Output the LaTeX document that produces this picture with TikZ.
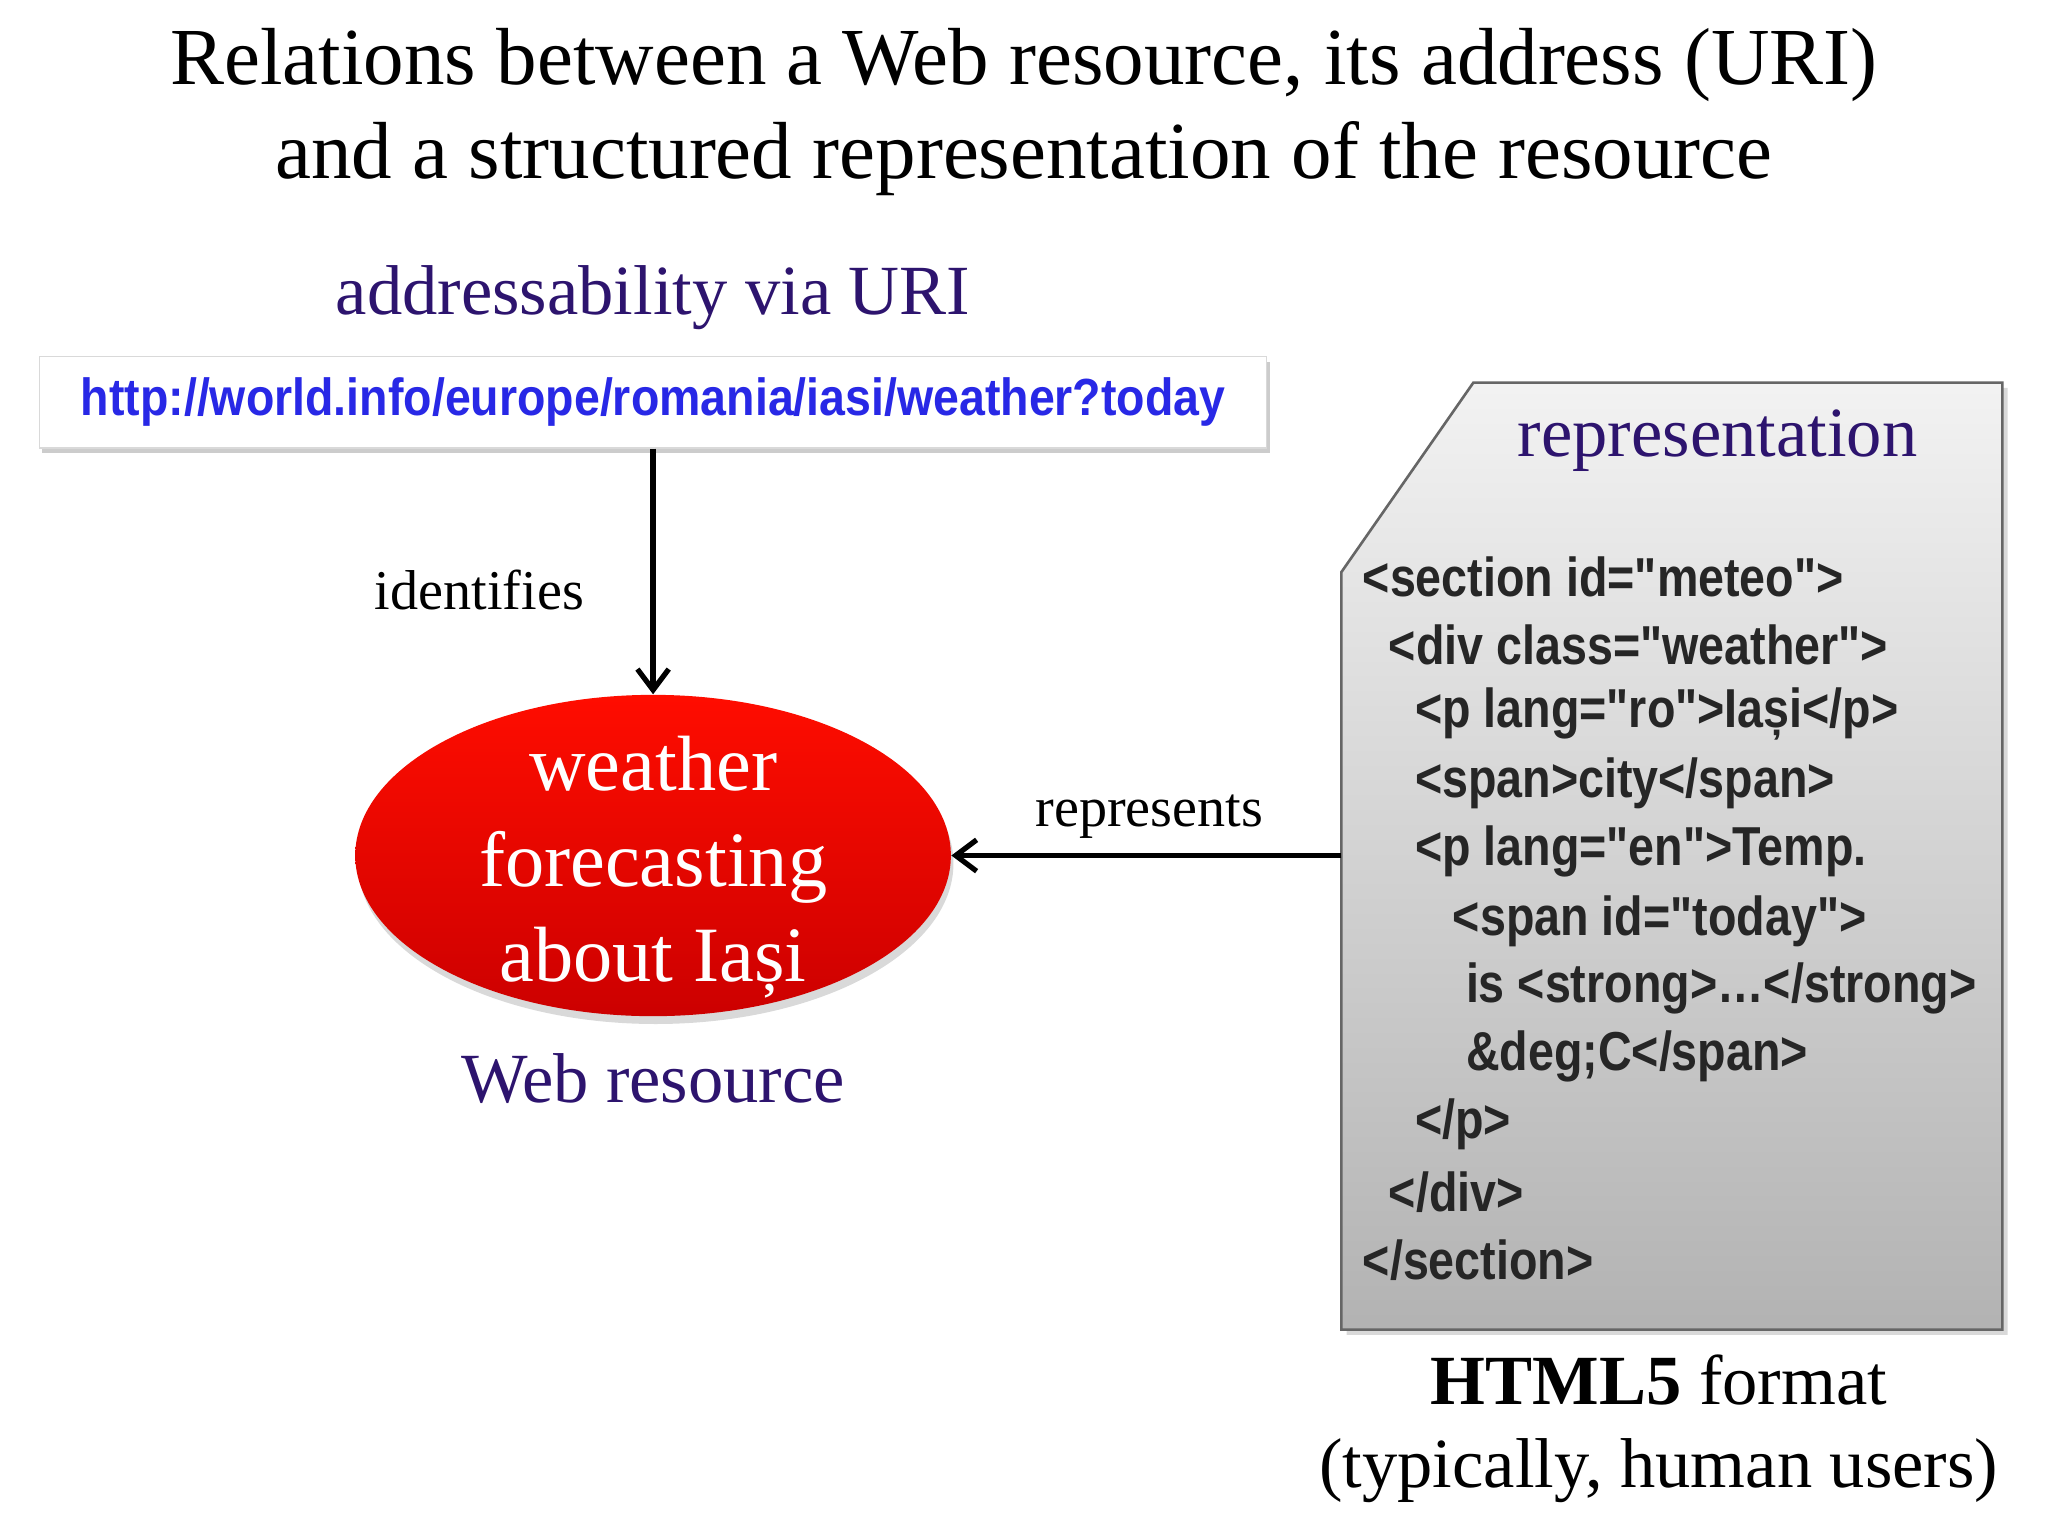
\documentclass[tikz,border=0pt]{standalone}
\usepackage{fontspec}
\setmainfont{Liberation Serif}
\newfontfamily\narrow[FakeStretch=0.85]{Liberation Sans}
\newfontfamily\urlfont[FakeStretch=0.89]{Liberation Sans}
\usetikzlibrary{shadows,arrows.meta,shapes.geometric}
\definecolor{purp}{RGB}{45,20,110}
\definecolor{urlblue}{RGB}{40,40,230}
\tikzset{
 conn/.style={line width=2pt,-{Straight Barb[length=8pt,width=12pt]}},
 code/.style={anchor=west,font=\narrow\bfseries\fontsize{21}{24}\selectfont,text=black!85,inner sep=0},
 lbl/.style={font=\fontsize{21.5}{24}\selectfont}
}
\begin{document}
\begin{tikzpicture}[x=0.5pt,y=-0.5pt]
\useasboundingbox (0,0) rectangle (1568,1176);
\node[font=\fontsize{31}{36}\selectfont,align=center] (title) at (784,86) {Relations between a Web resource, its address (URI)\\and a structured representation of the resource};
\node[font=\fontsize{27}{30}\selectfont,text=purp] (addr) at (500,228) {addressability via URI};
\node[draw=black!15,fill=white,drop shadow={shadow xshift=1pt,shadow yshift=-2pt,opacity=0.4},minimum width=470pt,minimum height=35pt,font=\urlfont\bfseries\fontsize{20}{24}\selectfont,text=urlblue] (url) at (500,308) {http://world.info/europe/romania/iasi/weather?today};
\node[ellipse,minimum width=228pt,minimum height=123pt,inner sep=0,shading=axis,top color=red!90!orange,bottom color=red!80!black,drop shadow={shadow xshift=1pt,shadow yshift=-3pt,opacity=0.3}] (res) at (500,655) {};
\node[align=center,text=white,font=\fontsize{30}{36.5}\selectfont] (restext) at (500,664) {weather\\forecasting\\about Iași};
\draw[conn] (url.south) -- (res.north);
\node[lbl] (idf) at (367,452) {identifies};
\node[font=\fontsize{27}{30}\selectfont,text=purp] (wr) at (500,826) {Web resource};
\path[draw=black!60,line width=1pt,top color=black!5,bottom color=black!30,drop shadow={shadow xshift=2pt,shadow yshift=-2pt,opacity=0.3}] (1128,293) -- (1533,293) -- (1533,1018) -- (1027,1018) -- (1027,438) -- cycle;
\coordinate (rep) at (1027,655);
\draw[conn] (rep) -- (res.east);
\node[lbl] (rs) at (880,625) {represents};
\node[font=\fontsize{27}{30}\selectfont,text=purp] (rt) at (1315,337) {representation};
\node[code] (c1) at (1043,442) {<section id="meteo">};
\node[code] (c2) at (1063,494) {<div class="weather">};
\node[code] (c3) at (1083,547) {<p lang="ro">Iași</p>};
\node[code] (c4) at (1083,600) {<span>city</span>};
\node[code] (c5) at (1083,652) {<p lang="en">Temp.};
\node[code] (c6) at (1112,705) {<span id="today">};
\node[code] (c7) at (1122,757) {is <strong>…</strong>};
\node[code] (c8) at (1122,809) {\&deg;C</span>};
\node[code] (c9) at (1083,861) {</p>};
\node[code] (c10) at (1063,913) {</div>};
\node[code] (c11) at (1043,965) {</section>};
\node[font=\fontsize{27}{32}\selectfont,align=center] (fmt) at (1270,1094) {\textbf{HTML5} format\\(typically, human users)};
\end{tikzpicture}
\end{document}
